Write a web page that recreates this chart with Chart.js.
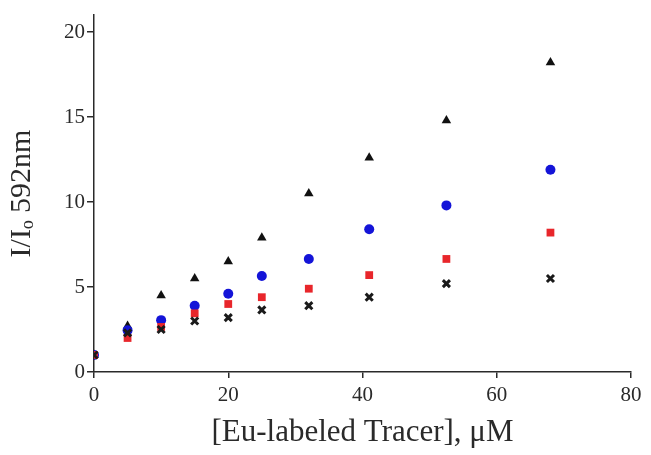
<!DOCTYPE html>
<html>
<head>
<meta charset="utf-8">
<script src="https://cdn.jsdelivr.net/npm/chart.js@4"></script>
<style>
html,body{margin:0;padding:0;background:#fff}
#wrap{width:651px;height:455px}
</style>
</head>
<body>
<div id="wrap"><canvas id="Chart1HTML" width="651" height="455"></canvas></div>
<script>
// tracer concentrations, uM
let CONC=[0,5,10,15,20,25,32,41,52.5,68]
// I/Io at 592 nm, four series
let TRI=[1,2.7,4.5,5.5,6.5,7.9,10.5,12.6,14.8,18.2]
let CIRC=[1,2.45,3.05,3.9,4.6,5.65,6.65,8.4,9.8,11.9]
let SQR=[1,2.0,2.65,3.45,4.0,4.4,4.9,5.7,6.65,8.2]
let CRS=[1,2.3,2.5,3.0,3.2,3.65,3.9,4.4,5.2,5.5]
let XTICKS=[0,20,40,60,80]
let YTICKS=[0,5,10,15,20]

let Chart1
let FONT='"Liberation Serif", "Times New Roman", serif'
let INK='#2a2a2a'

function Pts(Y){return CONC.map((c,i)=>({x:c,y:Y[i]}))}

function LoadC1(){
Chart1=new Chart(
document.getElementById('Chart1HTML'),
{
type:'scatter',
data:{
datasets:[
{data:Pts(CRS),pointStyle:'crossRot',radius:5,borderWidth:3,borderColor:'#1a1a1a',backgroundColor:'#1a1a1a'},
{data:Pts(SQR),pointStyle:'rect',radius:5.5,borderWidth:0,backgroundColor:'#e8262b',borderColor:'#e8262b'},
{data:Pts(CIRC),pointStyle:'circle',radius:5,borderWidth:0,backgroundColor:'#1414d8',borderColor:'#1414d8'},
{data:Pts(TRI),pointStyle:'triangle',radius:5.5,borderWidth:0,backgroundColor:'#111',borderColor:'#111'}
]
},
options:{
animation:false,
responsive:false,
layout:{padding:{top:15,right:20,left:0,bottom:0}},
plugins:{legend:{display:false},tooltip:{enabled:false}},
scales:{
x:{
type:'linear',min:0,max:80,
afterBuildTicks:s=>{s.ticks=XTICKS.map(v=>({value:v}))},
afterFit:s=>{s.height=83},
ticks:{font:{family:FONT,size:21},color:INK,padding:5},
grid:{drawOnChartArea:false,drawTicks:true,tickLength:6,color:INK,lineWidth:1.5},
border:{color:INK,width:1.5},
title:{display:true,text:'[Eu-labeled Tracer], \u03bcM',font:{family:FONT,size:31},color:INK,padding:{top:3}}
},
y:{
type:'linear',min:0,max:21,
afterBuildTicks:s=>{s.ticks=YTICKS.map(v=>({value:v}))},
afterFit:s=>{s.width=94},
ticks:{font:{family:FONT,size:21},color:INK,padding:2},
grid:{drawOnChartArea:false,drawTicks:true,tickLength:7,color:INK,lineWidth:1.5},
border:{color:INK,width:1.5},
title:{display:true,text:'I/I\u2092 592nm',font:{family:FONT,size:30},color:INK,padding:{bottom:4}}
}
}
}
}
)
}
LoadC1()
</script>
</body>
</html>
